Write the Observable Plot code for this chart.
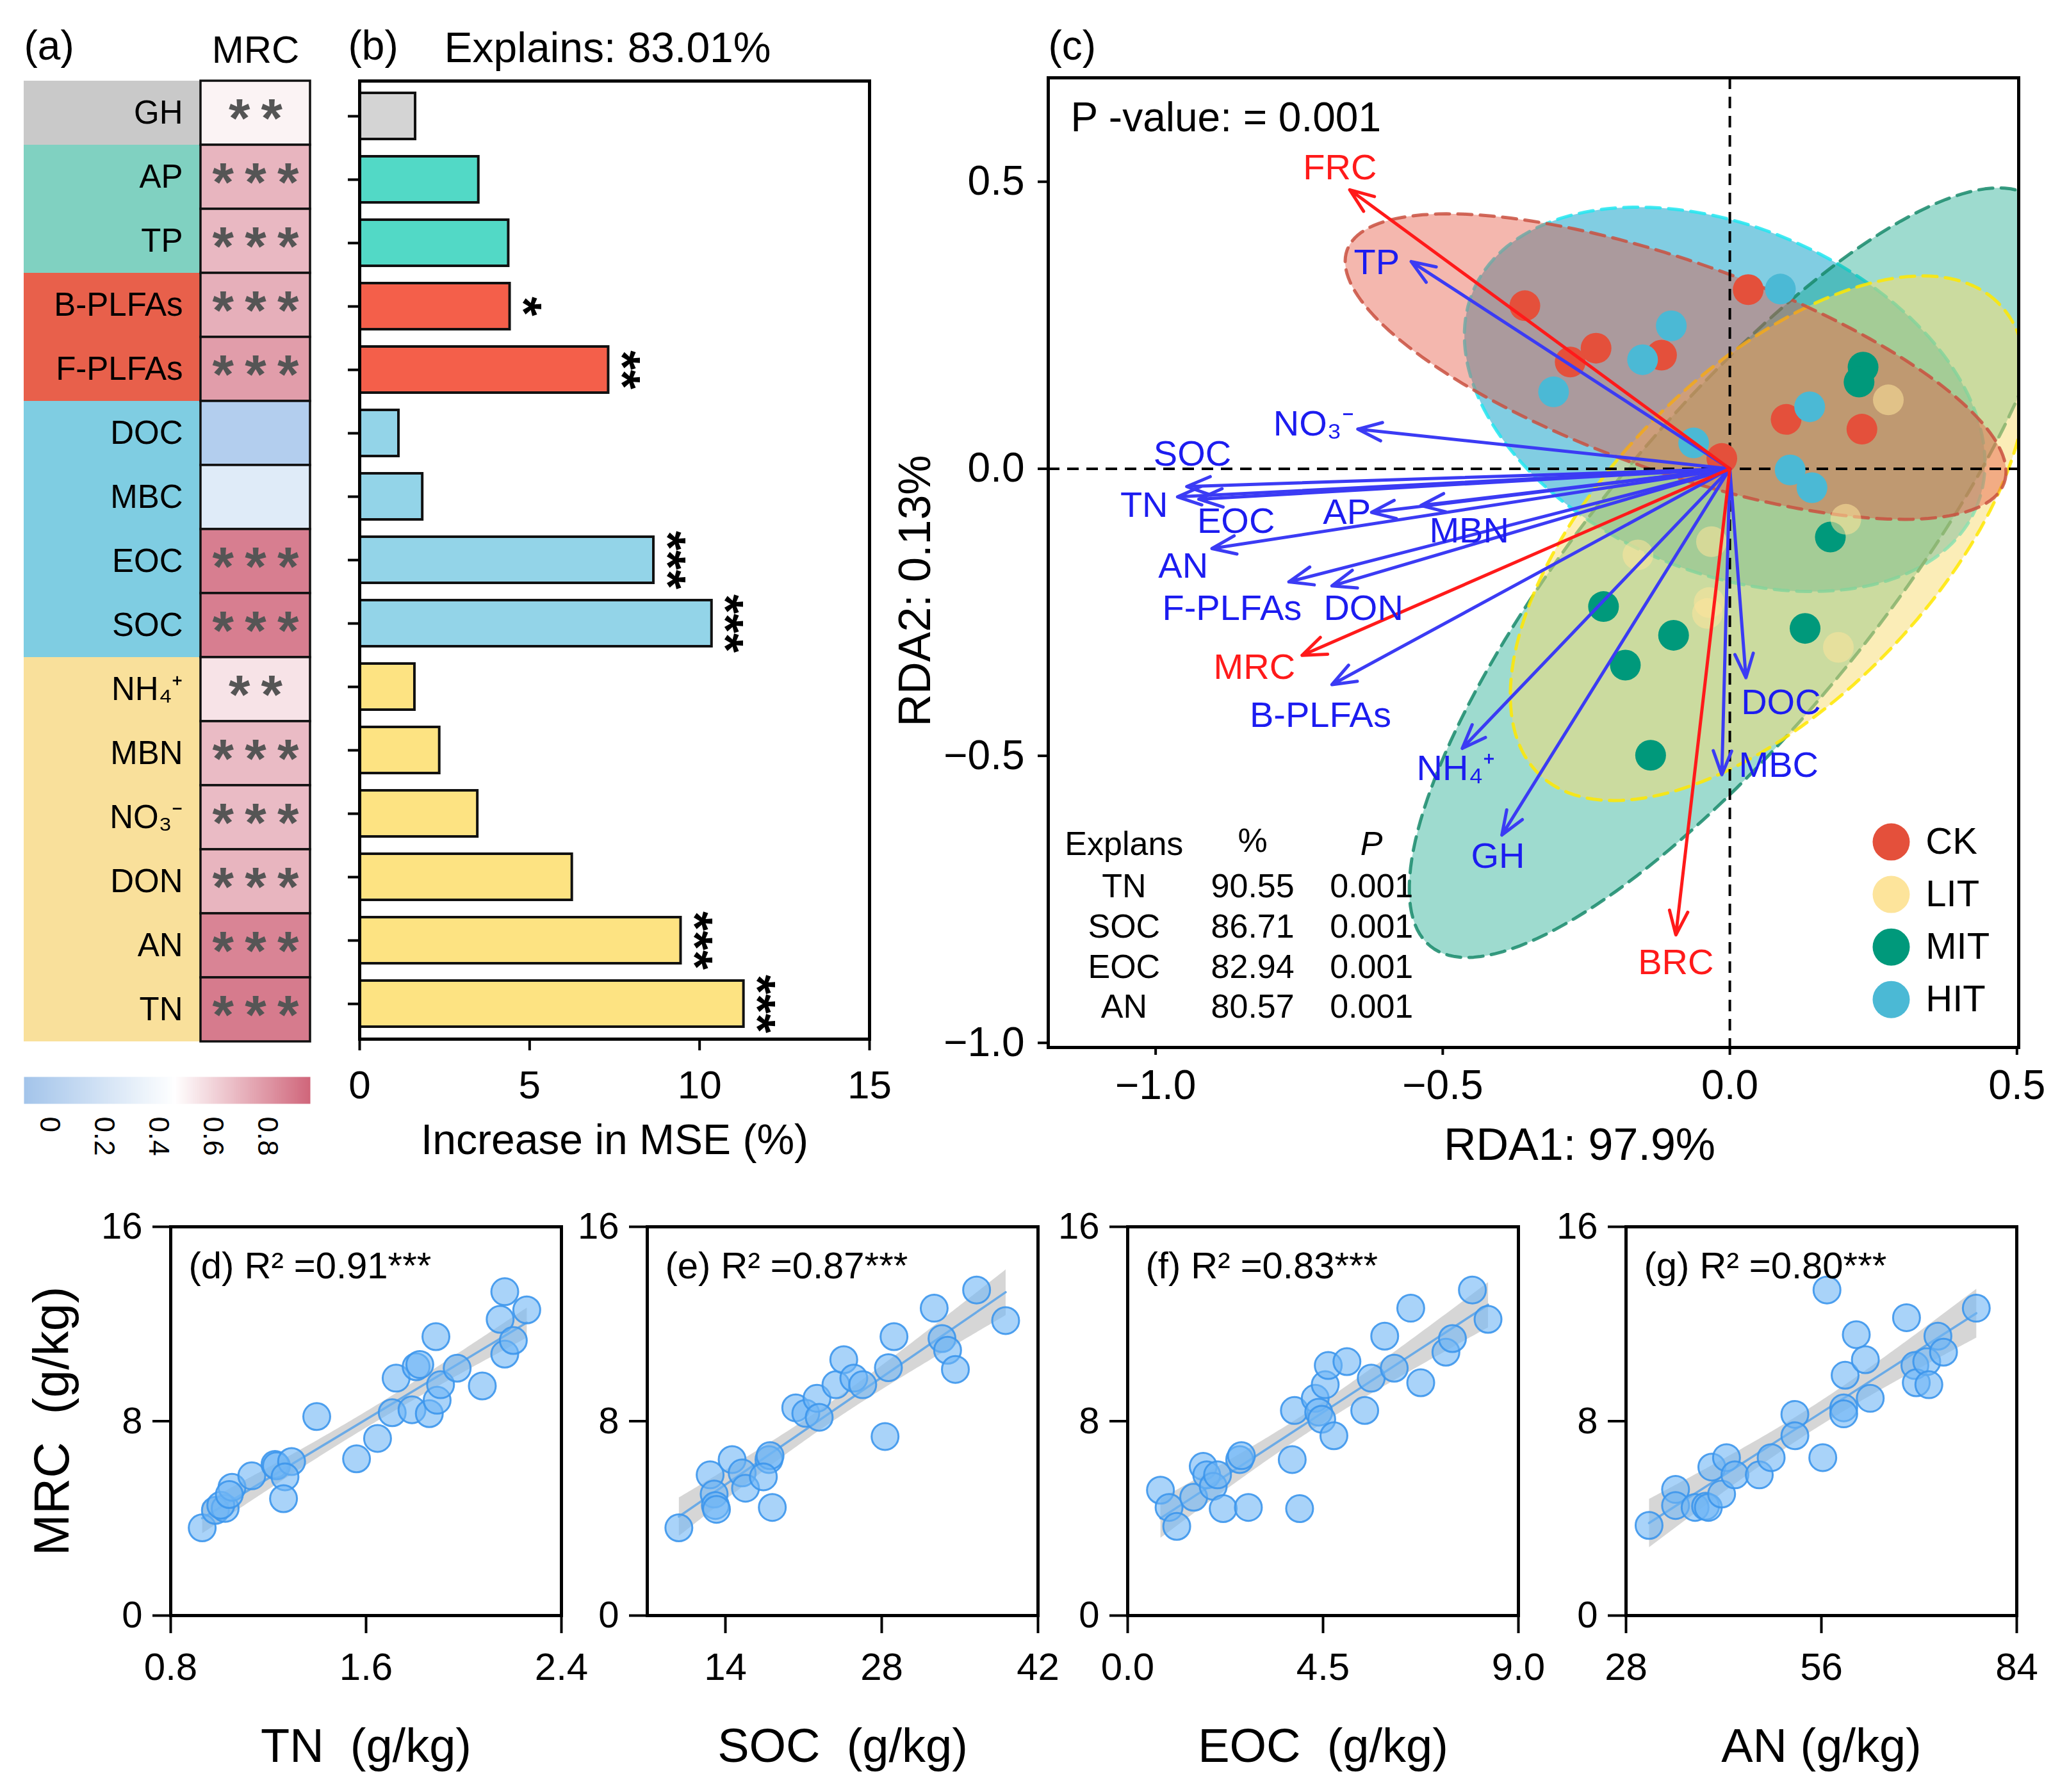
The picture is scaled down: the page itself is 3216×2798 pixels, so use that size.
<!DOCTYPE html>
<html><head><meta charset="utf-8">
<script src="https://cdn.jsdelivr.net/npm/d3@7"></script>
<script src="https://cdn.jsdelivr.net/npm/@observablehq/plot@0.6"></script>
<style>
html,body{margin:0;padding:0;background:#fff;}
#fig{position:relative;width:3216px;height:2798px;background:#fff;overflow:hidden;}
#fig > svg{position:absolute;overflow:visible;}
</style></head><body><div id="fig"></div>
<script>
// ---------------- DATA ----------------
// panel (a)/(b)
const vars = ["GH","AP","TP","B-PLFAs","F-PLFAs","DOC","MBC","EOC","SOC","NH4+","MBN","NO3-","DON","AN","TN"];
const varLabels = ["GH","AP","TP","B-PLFAs","F-PLFAs","DOC","MBC","EOC","SOC","NH₄⁺","MBN","NO₃⁻","DON","AN","TN"];
const varGroup = ["GH","P","P","PLFA","PLFA","C","C","C","C","N","N","N","N","N","N"];
const heatR = [0.50,0.70,0.69,0.72,0.78,0.00,0.27,0.88,0.88,0.55,0.68,0.68,0.70,0.86,0.89];
const heatSig = ["**","***","***","***","***","","","***","***","**","***","***","***","***","***"];
const mse = [1.64,3.50,4.38,4.42,7.32,1.15,1.85,8.65,10.36,1.62,2.35,3.47,6.25,9.45,11.30];
const mseSig = ["","","","*","**","","","***","***","","","","","***","***"];
const colorbarTicks = [0,0.2,0.4,0.6,0.8];
const mseTicks = [0,5,10,15];

// panel (c) RDA
const groups = ["CK","LIT","MIT","HIT"];
const ckX = [-0.357,-0.233,-0.278,-0.119,0.032,0.098,0.230,-0.014];
const ckY = [0.284,0.210,0.186,0.198,0.312,0.086,0.069,0.018];
const litX = [0.276,0.202,-0.160,-0.032,-0.036,-0.039,0.189];
const litY = [0.120,-0.088,-0.150,-0.127,-0.233,-0.252,-0.311];
const mitX = [0.232,0.225,0.175,-0.220,-0.098,-0.182,0.131,-0.138];
const mitY = [0.177,0.151,-0.119,-0.240,-0.290,-0.342,-0.278,-0.499];
const hitX = [-0.102,-0.152,-0.307,0.088,0.139,-0.063,0.105,0.143];
const hitY = [0.249,0.190,0.134,0.313,0.108,0.045,-0.002,-0.033];
// ellipse parameters (centre, semi-axes, rotation in degrees)
const ellGroup = ["HIT","MIT","LIT","CK"];
const ellCx = [-0.009,0.005,0.067,-0.0945];
const ellCy = [0.121,-0.181,-0.121,0.178];
const ellA = [0.477,0.837,0.573,0.607];
const ellB = [0.300,0.257,0.287,0.183];
const ellAng = [-23.6,51,45.8,-19.5];
// arrows
const arrVar = ["FRC","TP","NO3-","SOC","TN","EOC","AP","MBN","AN","F-PLFAs","DON","MRC","B-PLFAs","NH4+","GH","BRC","MBC","DOC"];
const arrLabel = ["FRC","TP","NO₃⁻","SOC","TN","EOC","AP","MBN","AN","F-PLFAs","DON","MRC","B-PLFAs","NH₄⁺","GH","BRC","MBC","DOC"];
const arrKind = ["resp","env","env","env","env","env","env","env","env","env","env","resp","env","env","env","resp","env","env"];
const arrX = [-0.662,-0.555,-0.648,-0.946,-0.962,-0.925,-0.624,-0.538,-0.902,-0.768,-0.693,-0.745,-0.693,-0.466,-0.397,-0.094,-0.014,0.028];
const arrY = [0.486,0.361,0.069,-0.031,-0.049,-0.053,-0.076,-0.064,-0.139,-0.197,-0.204,-0.325,-0.376,-0.487,-0.638,-0.812,-0.533,-0.364];
const labX = [-0.679,-0.615,-0.725,-0.936,-1.020,-0.860,-0.667,-0.454,-0.952,-0.867,-0.638,-0.828,-0.713,-0.477,-0.404,-0.094,0.085,0.089];
const labY = [0.524,0.359,0.078,0.025,-0.064,-0.092,-0.076,-0.108,-0.170,-0.243,-0.243,-0.346,-0.430,-0.522,-0.675,-0.860,-0.517,-0.407];
// table
const explVars = ["TN","SOC","EOC","AN"];
const explPct = ["90.55","86.71","82.94","80.57"];
const explP = ["0.001","0.001","0.001","0.001"];

// bottom panels
const tnX = [0.929,0.983,1.023,1.005,1.051,1.04,1.132,1.227,1.233,1.295,1.268,1.262,1.398,1.561,1.647,1.707,1.723,1.788,1.805,1.82,1.859,1.891,1.905,1.886,1.973,2.076,2.168,2.149,2.168,2.203,2.258];
const tnY = [3.61,4.33,4.41,4.54,5.28,4.98,5.75,6.22,6.16,6.34,5.71,4.81,8.19,6.45,7.29,8.35,9.77,8.47,10.24,10.33,8.31,8.86,9.5,11.48,10.18,9.45,13.33,12.19,10.76,11.32,12.58];
const socX = [9.83,12.63,12.99,13.1,13.2,14.6,15.5,15.8,17.9,18.0,17.4,18.2,20.3,21.2,22.2,22.4,23.9,24.6,25.5,26.3,28.3,28.6,29.1,32.7,33.4,33.9,34.6,36.5,39.1];
const socY = [3.61,5.79,5.0,4.53,4.37,6.42,5.87,5.24,6.42,6.58,5.71,4.45,8.55,8.32,8.94,8.16,9.5,10.53,9.77,9.5,7.37,10.2,11.48,12.65,11.4,10.92,10.13,13.4,12.14];
const eocX = [0.755,0.953,1.13,1.52,1.74,1.82,1.97,2.07,2.20,2.58,2.62,2.78,3.79,3.84,3.96,4.32,4.40,4.47,4.55,4.62,4.75,5.05,5.46,5.61,5.92,6.14,6.52,6.75,7.33,7.48,7.94,8.30];
const eocY = [5.16,4.45,3.67,4.87,6.14,5.79,5.32,5.79,4.4,6.42,6.58,4.45,6.42,8.44,4.4,8.94,8.37,8.08,9.5,10.29,7.4,10.45,8.44,9.77,11.5,10.18,12.65,9.58,10.84,11.4,13.4,12.19];
const anX = [31.3,35.1,35.1,37.9,39.4,39.8,40.3,41.7,42.4,43.6,47.1,48.8,52.2,52.2,56.2,56.8,59.2,59.4,61.0,62.3,63.0,68.2,69.4,69.6,71.1,71.4,72.7,73.5,78.2,59.2];
const anY = [3.71,5.19,4.53,4.45,4.5,4.45,6.11,5.0,6.5,5.79,5.79,6.5,8.28,7.4,6.5,13.4,8.55,9.89,11.56,10.53,8.94,12.26,10.29,9.58,10.45,9.5,11.5,10.84,12.65,8.3];

// ---------------- STYLES ----------------
const FONT = "'Liberation Sans', Arial, Helvetica, sans-serif";
const baseStyle = {fontFamily: FONT, fontSize: "60px", color: "#000", background: "transparent", overflow: "visible"};
const groupBg = {GH:"#c9c9c9", P:"#80d1c1", PLFA:"#e8604b", C:"#7fcde2", N:"#f9e09b"};
const groupBar = {GH:"#d4d4d4", P:"#52d9c6", PLFA:"#f45f4a", C:"#93d4e8", N:"#fde382"};
const groupColor = {CK:"#e4503b", LIT:"#fde49b", MIT:"#00997b", HIT:"#4bb9d5"};
const ellFill = {HIT:"#4cb8d6", MIT:"#00a080", LIT:"#f8dc70", CK:"#e5533d"};
const ellFillOp = {HIT:0.7, MIT:0.38, LIT:0.5, CK:0.42};
const ellStroke = {HIT:"#22e6f0", MIT:"#17896b", LIT:"#ffe800", CK:"#c9503f"};
const heatColor = {type:"linear", domain:[-0.094,0.46,0.958], range:["#a3c4ea","#ffffff","#d0667b"]};
const M = {lineAnchor: "middle"};

const fig = document.getElementById("fig");
function place(svg, left, top) { svg.style.left = left + "px"; svg.style.top = top + "px"; fig.appendChild(svg); }

// ---------------- PANEL (a) labels ----------------
const rowData = vars.map((v, i) => ({v, lab: varLabels[i], g: varGroup[i], r: heatR[i], s: heatSig[i], mse: mse[i], ms: mseSig[i]}));
const groupKeys = ["GH","P","PLFA","C","N"];

place(Plot.plot({
  width: 276, height: 1514, margin: 0, style: baseStyle,
  x: {axis: null, domain: ["lab"], padding: 0},
  y: {axis: null, domain: vars, padding: 0},
  marks: [
    ...groupKeys.map(g => Plot.cell(rowData.filter(d => d.g === g), {x: () => "lab", y: "v", fill: groupBg[g], inset: 0})),
    Plot.text(rowData, {y: "v", text: "lab", frameAnchor: "right", textAnchor: "end", lineAnchor: "middle", dx: -28, fontSize: 51}),
    Plot.text(["(a)"], {...M, frameAnchor: "top-left", textAnchor: "start", dy: -47, fontSize: 64})
  ]
}), 37, 119);

// ---------------- PANEL (a) heatmap ----------------
place(Plot.plot({
  width: 171, height: 1514, margin: 0, style: baseStyle,
  x: {axis: null, domain: ["MRC"], padding: 0},
  y: {axis: null, domain: vars, padding: 0},
  color: heatColor,
  marks: [
    Plot.cell(rowData, {x: () => "MRC", y: "v", fill: "r", stroke: "#111", strokeWidth: 3.5, inset: 0}),
    Plot.text(rowData, {x: () => "MRC", y: "v", text: d => d.s.split("").join("\u2009"), fill: "#555", fontSize: 86, fontWeight: "bold", dy: 10}),
    Plot.text(["MRC"], {...M, frameAnchor: "top", dy: -41, fontSize: 60})
  ]
}), 313, 119);

// ---------------- colour bar ----------------
place(Plot.plot({
  width: 447, height: 172, margin: 0, marginBottom: 130, style: baseStyle,
  x: {domain: [-0.094, 0.958]},
  y: {domain: [0, 1], axis: null},
  color: heatColor,
  marks: [
    Plot.raster({x1: -0.094, x2: 0.958, y1: 0, y2: 1, width: 300, height: 1, fill: (x, y) => x}),
    Plot.axisX({ticks: colorbarTicks, tickSize: 0, tickPadding: 20, tickRotate: 90, fontSize: 44, tickFormat: d => String(d), label: null})
  ]
}), 37, 1681);

// ---------------- PANEL (b) ----------------
place(Plot.plot({
  width: 846, height: 1706, marginLeft: 40, marginRight: 10, marginTop: 10, marginBottom: 200, style: baseStyle,
  x: {domain: [0, 15]},
  y: {domain: vars, paddingInner: 0.27, paddingOuter: 0.17},
  marks: [
    ...groupKeys.map(g => Plot.barX(rowData.filter(d => d.g === g), {x: "mse", y: "v", fill: groupBar[g], stroke: "#111", strokeWidth: 4, inset: 0})),
    Plot.text(rowData.filter(d => d.ms), {x: "mse", y: "v", text: "ms", rotate: 90, dx: 20, fontSize: 78, fontWeight: "bold"}),
    Plot.frame({strokeWidth: 5}),
    Plot.axisX({ticks: mseTicks, tickSize: 18, tickPadding: 30, strokeWidth: 4, fontSize: 62, label: null, tickFormat: d => String(d)}),
    Plot.axisY({tickSize: 18, tickFormat: () => "", strokeWidth: 4, label: null}),
    Plot.text(["(b)"], {...M, frameAnchor: "top-left", textAnchor: "start", dx: -18, dy: -54, fontSize: 64}),
    Plot.text(["Explains: 83.01%"], {...M, frameAnchor: "top-left", textAnchor: "start", dx: 132, dy: -51, fontSize: 66}),
    Plot.text(["Increase in MSE (%)"], {...M, frameAnchor: "bottom", dy: 158, fontSize: 66})
  ]
}), 521, 116);

// ---------------- PANEL (c) ----------------
function ellipsePts(cx, cy, a, b, deg) {
  const t = deg * Math.PI / 180;
  return d3.range(0, 360, 2).map(k => {
    const u = k * Math.PI / 180, ex = a * Math.cos(u), ey = b * Math.sin(u);
    return {x: cx + ex * Math.cos(t) - ey * Math.sin(t), y: cy + ex * Math.sin(t) + ey * Math.cos(t)};
  });
}
const sites = [
  ...ckX.map((x, i) => ({g: "CK", x, y: ckY[i]})),
  ...hitX.map((x, i) => ({g: "HIT", x, y: hitY[i]})),
  ...mitX.map((x, i) => ({g: "MIT", x, y: mitY[i]})),
  ...litX.map((x, i) => ({g: "LIT", x, y: litY[i]}))
];
const arrows = arrVar.map((v, i) => ({v, lab: arrLabel[i], kind: arrKind[i], x: arrX[i], y: arrY[i], lx: labX[i], ly: labY[i]}));
const table = explVars.map((v, i) => ({v, pct: explPct[i], p: explP[i], i}));
const tHead = -0.654, tRow0 = -0.728, tStep = -0.0700;
const colName = -1.055, colPct = -0.831, colP = -0.624;
const blue = "#3b3bf4", red = "#ff1a1a";

place(Plot.plot({
  width: 1785, height: 1724, marginLeft: 250, marginRight: 20, marginTop: 10, marginBottom: 200, style: baseStyle,
  x: {domain: [-1.187, 0.503]},
  y: {domain: [-1.008, 0.681]},
  color: {domain: groups, range: groups.map(g => groupColor[g])},
  marks: [
    ...ellGroup.map((g, i) => Plot.line(ellipsePts(ellCx[i], ellCy[i], ellA[i], ellB[i], ellAng[i]), {
      x: "x", y: "y", curve: "linear-closed", fill: ellFill[g], fillOpacity: ellFillOp[g],
      stroke: ellStroke[g], strokeWidth: 5, strokeOpacity: 0.85, strokeDasharray: "22,13", clip: true})),
    Plot.ruleX([0], {strokeDasharray: "18,12", strokeWidth: 4}),
    Plot.ruleY([0], {strokeDasharray: "18,12", strokeWidth: 4}),
    Plot.dot(sites.filter(d => d.g !== "LIT"), {x: "x", y: "y", fill: "g", r: 24}),
    Plot.dot(sites.filter(d => d.g === "LIT"), {x: "x", y: "y", fill: "g", r: 24, fillOpacity: 0.55}),
    Plot.arrow(arrows.filter(d => d.kind === "env"), {x1: () => 0, y1: () => 0, x2: "x", y2: "y", stroke: blue, strokeWidth: 5, headLength: 12, headAngle: 42}),
    Plot.arrow(arrows.filter(d => d.kind === "resp"), {x1: () => 0, y1: () => 0, x2: "x", y2: "y", stroke: red, strokeWidth: 5, headLength: 12, headAngle: 42}),
    Plot.text(arrows.filter(d => d.kind === "env"), {x: "lx", y: "ly", text: "lab", fill: "#1c1cf0", fontSize: 56}),
    Plot.text(arrows.filter(d => d.kind === "resp"), {x: "lx", y: "ly", text: "lab", fill: red, fontSize: 56}),
    // table
    Plot.text(["Explans"], {x: () => colName, y: () => tHead, fontSize: 52}),
    Plot.text(["%"], {x: () => colPct, y: () => tHead + 0.005, fontSize: 52}),
    Plot.text(["P"], {x: () => colP, y: () => tHead, fontSize: 52, fontStyle: "italic"}),
    Plot.text(table, {x: () => colName, y: d => tRow0 + d.i * tStep, text: "v", fontSize: 52}),
    Plot.text(table, {x: () => colPct, y: d => tRow0 + d.i * tStep, text: "pct", fontSize: 52}),
    Plot.text(table, {x: () => colP, y: d => tRow0 + d.i * tStep, text: "p", fontSize: 52}),
    // legend
    Plot.dot(groups, {x: () => 0.281, y: (d, i) => -0.650 - i * 0.0915, fill: d => d, r: 29}),
    Plot.text(groups, {x: () => 0.341, y: (d, i) => -0.650 - i * 0.0915, text: d => d, textAnchor: "start", fontSize: 58}),
    Plot.frame({strokeWidth: 5}),
    Plot.axisX({ticks: [-1, -0.5, 0, 0.5], tickSize: 12, tickPadding: 23, strokeWidth: 4, fontSize: 64, tickFormat: d3.format(".1f"), label: null}),
    Plot.axisY({ticks: [-1, -0.5, 0, 0.5], tickSize: 16, tickPadding: 21, strokeWidth: 4, fontSize: 64, tickFormat: d3.format(".1f"), label: null}),
    Plot.text(["(c)"], {...M, frameAnchor: "top-left", textAnchor: "start", dy: -49, fontSize: 64}),
    Plot.text(["P -value: = 0.001"], {...M, frameAnchor: "top-left", textAnchor: "start", dx: 35, dy: 63, fontSize: 64}),
    Plot.text(["RDA1: 97.9%"], {...M, frameAnchor: "bottom", dx: 72, dy: 153, fontSize: 70}),
    Plot.text(["RDA2: 0.13%"], {...M, frameAnchor: "left", textAnchor: "middle", dx: -207, dy: 44, rotate: -90, fontSize: 70})
  ]
}), 1386, 111);

// ---------------- PANELS (d)-(g) ----------------
function scatterPanel(xs, ys, domain, ticks, fmt, title, xlabel, showY) {
  const data = xs.map((x, i) => ({x, y: ys[i]}));
  return Plot.plot({
    width: 790, height: 847, marginLeft: 160, marginRight: 20, marginTop: 10, marginBottom: 230, style: baseStyle,
    x: {domain}, y: {domain: [0, 16]},
    marks: [
      Plot.linearRegressionY(data, {x: "x", y: "y", stroke: "#6aaae6", strokeWidth: 3.5, fill: "#b4b4b4", fillOpacity: 0.55}),
      Plot.dot(data, {x: "x", y: "y", r: 21, fill: "#6fb6f5", fillOpacity: 0.6, stroke: "#3c96ec", strokeWidth: 3, strokeOpacity: 0.9}),
      Plot.frame({strokeWidth: 5}),
      Plot.axisX({ticks, tickFormat: fmt, tickSize: 28, tickPadding: 30, strokeWidth: 4, fontSize: 60, label: null}),
      Plot.axisY({ticks: [0, 8, 16], tickSize: 28, tickPadding: 16, strokeWidth: 4, fontSize: 58, label: null}),
      Plot.text([title], {...M, frameAnchor: "top-left", textAnchor: "start", dx: 28, dy: 62, fontSize: 58}),
      Plot.text([xlabel], {...M, frameAnchor: "bottom", dy: 205, fontSize: 74}),
      showY ? Plot.text(["MRC  (g/kg)"], {...M, frameAnchor: "left", textAnchor: "middle", dx: -184, rotate: -90, fontSize: 78}) : null
    ]
  });
}
place(scatterPanel(tnX, tnY, [0.8, 2.4], [0.8, 1.6, 2.4], d3.format(".1f"), "(d) R² =0.91***", "TN  (g/kg)", true), 106, 1905);
place(scatterPanel(socX, socY, [7, 42], [14, 28, 42], d => String(d), "(e) R² =0.87***", "SOC  (g/kg)", false), 850, 1905);
place(scatterPanel(eocX, eocY, [0, 9], [0, 4.5, 9], d3.format(".1f"), "(f) R² =0.83***", "EOC  (g/kg)", false), 1600, 1905);
place(scatterPanel(anX, anY, [28, 84], [28, 56, 84], d => String(d), "(g) R² =0.80***", "AN (g/kg)", false), 2378, 1905);
</script></body></html>
